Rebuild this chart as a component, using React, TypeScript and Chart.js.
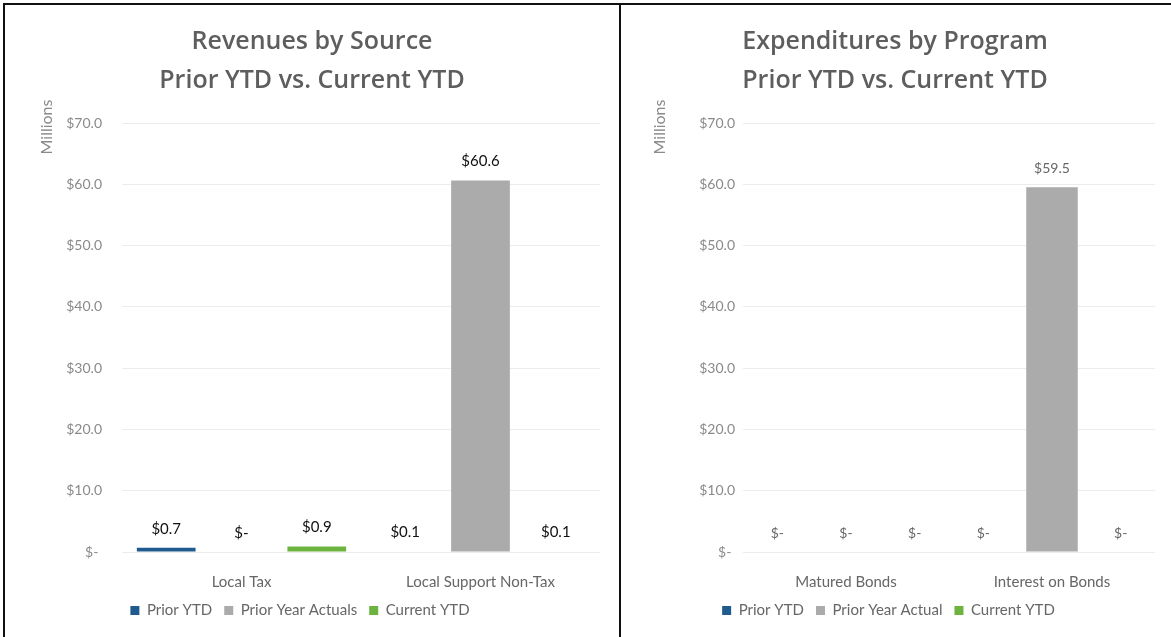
import React, { useEffect, useRef } from "react";
import { Chart, registerables } from "chart.js";

Chart.register(...registerables);

// ---------- data ----------
const revenueCategories = ["Local Tax", "Local Support Non-Tax"];
const revenuePriorYTD = [0.7, 0.1];
const revenuePriorYearActuals = [0, 60.6];
const revenueCurrentYTD = [0.9, 0.1];
const revenueSeriesLabels = ["Prior YTD", "Prior Year Actuals", "Current YTD"];
const revenueTitle = ["Revenues by Source", "Prior YTD vs. Current YTD"];

const expenditureCategories = ["Matured Bonds", "Interest on Bonds"];
const expenditurePriorYTD = [0, 0];
const expenditurePriorYearActual = [0, 59.5];
const expenditureCurrentYTD = [0, 0];
const expenditureSeriesLabels = ["Prior YTD", "Prior Year Actual", "Current YTD"];
const expenditureTitle = ["Expenditures by Program", "Prior YTD vs. Current YTD"];

const yMin = 0;
const yMax = 70;
const yStep = 10;
const unitsLabel = "Millions";

// ---------- styles ----------
const FONT = "Lato, 'Open Sans', sans-serif";
const TITLE_FONT = "'Open Sans', Lato, sans-serif";
const BLUE = "#1F5B8E";
const GRAY = "#ABABAB";
const GREEN = "#6DB33F";

const money = (v: number) => (v === 0 ? "$-" : "$" + v.toFixed(1));

type PanelOpts = {
  categories: string[];
  series: number[][];
  labels: string[];
  title: string[];
  width: number;
  titleX: number;
  unitsX: number;
  yWidth: number;
  yPad: number;
  padRight: number;
  catPct: number;
  barPct: number;
  labelFont: string;
  labelColor: string;
};

function makeConfig(o: PanelOpts): any {
  const colors = [BLUE, GRAY, GREEN];
  const overlay = {
    id: "overlay",
    afterDatasetsDraw(chart: any) {
      const ctx = chart.ctx;
      ctx.save();
      ctx.font = o.labelFont;
      ctx.fillStyle = o.labelColor;
      ctx.textAlign = "center";
      ctx.textBaseline = "middle";
      chart.data.datasets.forEach((ds: any, i: number) => {
        const meta = chart.getDatasetMeta(i);
        meta.data.forEach((el: any, j: number) => {
          ctx.fillText(money(ds.data[j]), el.x, el.y - 19);
        });
      });
      ctx.restore();
    },
    afterDraw(chart: any) {
      const ctx = chart.ctx;
      ctx.save();
      ctx.fillStyle = "#5e5e5e";
      ctx.font = `600 25px ${TITLE_FONT}`;
      ctx.textAlign = "center";
      ctx.textBaseline = "middle";
      ctx.fillText(o.title[0], o.titleX, 42);
      ctx.fillText(o.title[1], o.titleX, 81);
      ctx.translate(o.unitsX, 127);
      ctx.rotate(-Math.PI / 2);
      ctx.font = `16px ${FONT}`;
      ctx.fillStyle = "#8a8a8a";
      ctx.fillText(unitsLabel, 0, 0);
      ctx.restore();
    },
  };
  return {
    type: "bar",
    data: {
      labels: o.categories,
      datasets: o.series.map((d, i) => ({
        label: o.labels[i],
        data: d,
        backgroundColor: colors[i],
        borderWidth: 0,
        categoryPercentage: o.catPct,
        barPercentage: o.barPct,
      })),
    },
    options: {
      animation: false,
      responsive: false,
      maintainAspectRatio: false,
      layout: { padding: { left: 0, right: o.padRight, top: 123, bottom: 9 } },
      plugins: {
        title: { display: false },
        tooltip: { enabled: false },
        legend: {
          display: true,
          position: "bottom",
          labels: {
            boxWidth: 9,
            boxHeight: 9,
            padding: 12,
            color: "#666666",
            font: { family: FONT, size: 15 },
          },
        },
      },
      scales: {
        x: {
          grid: { display: false, drawTicks: false },
          border: { display: false },
          ticks: { color: "#666666", font: { family: FONT, size: 15 }, padding: 21 },
          afterFit: (s: any) => {
            s.height = 39;
          },
        },
        y: {
          min: yMin,
          max: yMax,
          grid: { color: "#ececec", drawTicks: false },
          border: { display: false },
          ticks: {
            stepSize: yStep,
            color: "#8a8a8a",
            font: { family: FONT, size: 14 },
            padding: o.yPad,
            callback: (v: any) => (Number(v) === 0 ? "$- " : money(Number(v))),
          },
          afterFit: (s: any) => {
            s.width = o.yWidth;
          },
        },
      },
    },
    plugins: [overlay],
  };
}

function ChartPanel({ left, width, opts }: { left: number; width: number; opts: PanelOpts }) {
  const ref = useRef<HTMLCanvasElement | null>(null);
  useEffect(() => {
    if (!ref.current) return;
    const chart = new Chart(ref.current, makeConfig(opts));
    return () => chart.destroy();
  }, []);
  return (
    <canvas
      ref={ref}
      width={width}
      height={637}
      style={{ position: "absolute", left, top: 0, width, height: 637 }}
    />
  );
}

export default function App() {
  const leftOpts: PanelOpts = {
    categories: revenueCategories,
    series: [revenuePriorYTD, revenuePriorYearActuals, revenueCurrentYTD],
    labels: revenueSeriesLabels,
    title: revenueTitle,
    width: 619,
    titleX: 312,
    unitsX: 47,
    yWidth: 122,
    yPad: 20,
    padRight: 19,
    catPct: 0.945,
    barPct: 0.78,
    labelFont: `15px ${FONT}`,
    labelColor: "#111111",
  };
  const rightOpts: PanelOpts = {
    categories: expenditureCategories,
    series: [expenditurePriorYTD, expenditurePriorYearActual, expenditureCurrentYTD],
    labels: expenditureSeriesLabels,
    title: expenditureTitle,
    width: 549,
    titleX: 273,
    unitsX: 38,
    yWidth: 121,
    yPad: 8,
    padRight: 16,
    catPct: 1.0,
    barPct: 0.75,
    labelFont: `14px ${FONT}`,
    labelColor: "#666666",
  };
  return (
    <div
      style={{
        position: "absolute",
        left: 0,
        top: 0,
        width: 1171,
        height: 637,
        background: "#ffffff",
        overflow: "hidden",
      }}
    >
      <ChartPanel left={0} width={619} opts={leftOpts} />
      <ChartPanel left={622} width={549} opts={rightOpts} />
      <div style={{ position: "absolute", left: 3, top: 3, width: 1168, height: 2, background: "#111" }} />
      <div style={{ position: "absolute", left: 3, top: 3, width: 2, height: 634, background: "#111" }} />
      <div style={{ position: "absolute", left: 619, top: 3, width: 2, height: 634, background: "#111" }} />
    </div>
  );
}
